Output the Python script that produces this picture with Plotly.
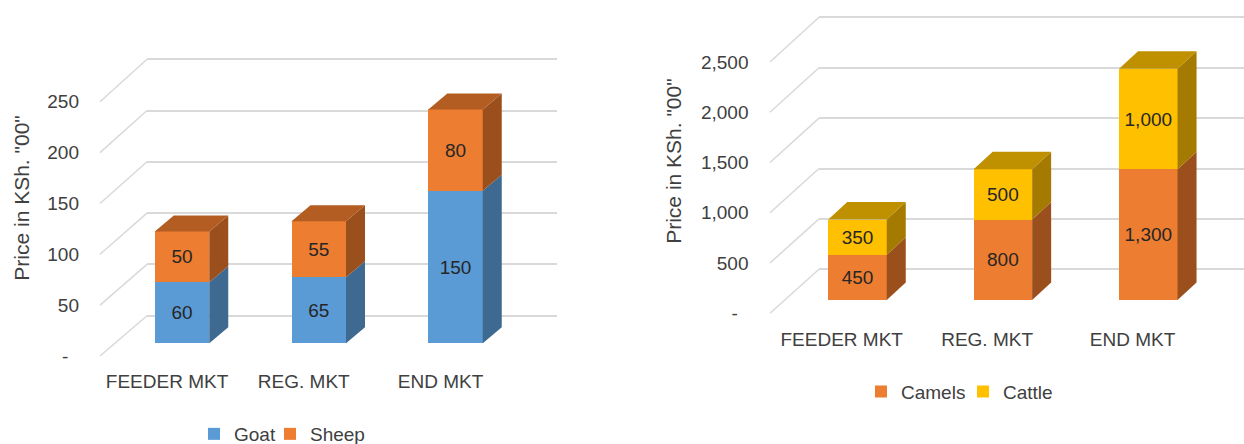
import plotly.graph_objects as go

# ---- data -------------------------------------------------------------
categories = ["FEEDER MKT", "REG. MKT", "END MKT"]

goat = [60, 65, 150]
sheep = [50, 55, 80]
camels = [450, 800, 1300]
cattle = [350, 500, 1000]

small_ticks = [0, 50, 100, 150, 200, 250]
large_ticks = [0, 500, 1000, 1500, 2000, 2500]

y_title = 'Price in KSh. "00"'

# ---- canvas ---------------------------------------------------------------
W, H = 1244, 444
FONT = "Liberation Sans, Arial, sans-serif"
GRID = "#D9D9D9"
TXT = "#404040"


def tick_text(v):
    return "-\u00a0\u00a0" if v == 0 else f"{v:,}"


def px_x(p):
    return p / W


def px_y(p):
    return 1 - p / H


def x_axis(c0, s, pl, pr):
    """Linear x-axis where category i sits at pixel c0 + i*s."""
    return dict(domain=[px_x(pl), px_x(pr)], range=[(pl - c0) / s, (pr - c0) / s])


def y_axis(z0, k, ptop, pbot):
    """Linear y-axis where value v sits at pixel z0 - v*k."""
    return dict(domain=[px_y(pbot), px_y(ptop)], range=[(z0 - pbot) / k, (z0 - ptop) / k])


# Panel geometry (pixels): bar plane, front floor edge, back wall, depth.
panels = [
    dict(
        series=[("Goat", goat, "#5B9BD5", None, "#3E6990"),
                ("Sheep", sheep, "#ED7D31", "#B35D22", "#9B4F1D")],
        ticks=small_ticks,
        bar=dict(c0=182, s=136.75, z0=343.3, k=1.017, w=54.5, dx=19, dy=16),
        front=dict(z0=356, k=1.017, x=100, axis_x=80, cat_c0=167, cat_y=368),
        wall=dict(z0=315.7, k=1.026, x0=147, x1=557),
        area=dict(top=40, left=80, right=560),
        title_xy=(20.7, 198),
        legend=dict(y=434, left=[194, 270]),
        ids=dict(wall="", bar="3", lab="5"),
    ),
    dict(
        series=[("Camels", camels, "#ED7D31", None, "#9B4F1D"),
                ("Cattle", cattle, "#FFC000", "#BF9000", "#A47B00")],
        ticks=large_ticks,
        bar=dict(c0=857.5, s=145.4, z0=300, k=0.1005, w=58.5, dx=19, dy=17.5),
        front=dict(z0=313.3, k=0.1005, x=770, axis_x=749.5, cat_c0=841.7, cat_y=326.3),
        wall=dict(z0=269.3, k=0.1008, x0=819, x1=1244),
        area=dict(top=8, left=749.5, right=1244),
        title_xy=(673.3, 160.5),
        legend=dict(y=391.7, left=[861, 963]),
        ids=dict(wall="2", bar="4", lab="6"),
    ),
]

fig = go.Figure()
layout = dict(
    width=W, height=H,
    margin=dict(l=0, r=0, t=0, b=0, autoexpand=False),
    paper_bgcolor="white", plot_bgcolor="rgba(0,0,0,0)",
    barmode="stack", template="none",
    font=dict(family=FONT, size=19, color=TXT),
    uniformtext=dict(minsize=19, mode="show"),
    showlegend=True,
)
shapes, annotations = [], []
legend_count = 0

for pi, P in enumerate(panels):
    b, f, wl, ar, ids = P["bar"], P["front"], P["wall"], P["area"], P["ids"]

    # back wall: native gridlines
    wx, wy = "xaxis" + ids["wall"], "yaxis" + ids["wall"]
    layout[wx] = dict(x_axis(0, 1, wl["x0"], wl["x1"]), visible=False,
                      anchor="y" + ids["wall"], fixedrange=True)
    layout[wy] = dict(y_axis(wl["z0"], wl["k"], ar["top"], wl["z0"] + 6),
                      anchor="x" + ids["wall"], tickmode="array", tickvals=P["ticks"],
                      showticklabels=False, showgrid=True, gridcolor=GRID, gridwidth=1.5,
                      zeroline=False, showline=False, ticks="", fixedrange=True)
    fig.add_trace(go.Scatter(x=[], y=[], xaxis="x" + ids["wall"], yaxis="y" + ids["wall"],
                             showlegend=False, hoverinfo="skip"))

    # bars (front faces)
    bx, by = "xaxis" + ids["bar"], "yaxis" + ids["bar"]
    layout[bx] = dict(x_axis(b["c0"], b["s"], ar["left"], ar["right"]), visible=False,
                      anchor="y" + ids["bar"], fixedrange=True)
    layout[by] = dict(y_axis(b["z0"], b["k"], ar["top"], b["z0"] + 10), visible=False,
                      anchor="x" + ids["bar"], fixedrange=True)

    idx = list(range(len(categories)))
    bw = b["w"] / b["s"]            # bar width in axis units
    ddx = b["dx"] / b["s"]          # depth offset, x units
    ddy = b["dy"] / b["k"]          # depth offset, y units
    base = [0] * len(categories)
    for si, (name, vals, front_col, top_col, side_col) in enumerate(P["series"]):
        legend_count += 1
        legend_name = "legend" if legend_count == 1 else f"legend{legend_count}"
        fig.add_trace(go.Bar(
            x=idx, y=vals, name=name, width=bw,
            xaxis="x" + ids["bar"], yaxis="y" + ids["bar"],
            marker=dict(color=front_col, line=dict(width=0)),
            texttemplate="%{y:,}", textposition="inside", insidetextanchor="middle",
            textangle=0, textfont=dict(size=19, color="#262626", family=FONT),
            legend=legend_name, hoverinfo="skip",
        ))
        layout[legend_name] = dict(orientation="h", x=px_x(P["legend"]["left"][si]),
                                   y=px_y(P["legend"]["y"]), xanchor="left",
                                   yanchor="middle", bgcolor="rgba(0,0,0,0)",
                                   font=dict(size=19, color=TXT, family=FONT))
        for i, v in enumerate(vals):
            y0, y1 = base[i], base[i] + v
            xr = i + bw / 2
            xl = i - bw / 2
            # right side face
            shapes.append(dict(
                type="path", xref="x" + ids["bar"], yref="y" + ids["bar"],
                path=(f"M{xr},{y0} L{xr + ddx},{y0 + ddy} L{xr + ddx},{y1 + ddy} "
                      f"L{xr},{y1} Z"),
                fillcolor=side_col, line=dict(width=0), layer="above"))
            # top face on the uppermost segment
            if top_col is not None:
                shapes.append(dict(
                    type="path", xref="x" + ids["bar"], yref="y" + ids["bar"],
                    path=(f"M{xl},{y1} L{xr},{y1} L{xr + ddx},{y1 + ddy} "
                          f"L{xl + ddx},{y1 + ddy} Z"),
                    fillcolor=top_col, line=dict(width=0), layer="above"))
            base[i] = y1

    # front floor edge: value and category labels
    lx, ly = "xaxis" + ids["lab"], "yaxis" + ids["lab"]
    layout[lx] = dict(x_axis(f["cat_c0"], b["s"], f["axis_x"], ar["right"]),
                      anchor="y" + ids["lab"], tickmode="array", tickvals=idx,
                      ticktext=categories, showgrid=False, zeroline=False,
                      showline=False, ticks="", fixedrange=True,
                      tickfont=dict(size=19, color=TXT, family=FONT))
    layout[ly] = dict(y_axis(f["z0"], f["k"], ar["top"], f["cat_y"]),
                      anchor="x" + ids["lab"], tickmode="array", tickvals=P["ticks"],
                      ticktext=[tick_text(v) for v in P["ticks"]],
                      showgrid=False, zeroline=False, showline=False, ticks="",
                      fixedrange=True, tickfont=dict(size=19, color=TXT, family=FONT))
    fig.add_trace(go.Scatter(x=[], y=[], xaxis="x" + ids["lab"], yaxis="y" + ids["lab"],
                             showlegend=False, hoverinfo="skip"))

    # side wall: receding gridlines joining the floor edge to the back wall
    for v in P["ticks"]:
        yf = f["z0"] - v * f["k"]
        yb = wl["z0"] - v * wl["k"]
        shapes.append(dict(type="line", xref="paper", yref="paper",
                           x0=px_x(f["x"]), y0=px_y(yf), x1=px_x(wl["x0"]), y1=px_y(yb),
                           line=dict(color=GRID, width=1.5), layer="below"))

    tx, ty = P["title_xy"]
    annotations.append(dict(text=y_title, textangle=-90, xref="paper", yref="paper",
                            x=px_x(tx), y=px_y(ty), xanchor="center", yanchor="middle",
                            showarrow=False, font=dict(size=21, color=TXT, family=FONT)))

layout["shapes"] = shapes
layout["annotations"] = annotations
fig.update_layout(**layout)
fig.write_html("out.html")
